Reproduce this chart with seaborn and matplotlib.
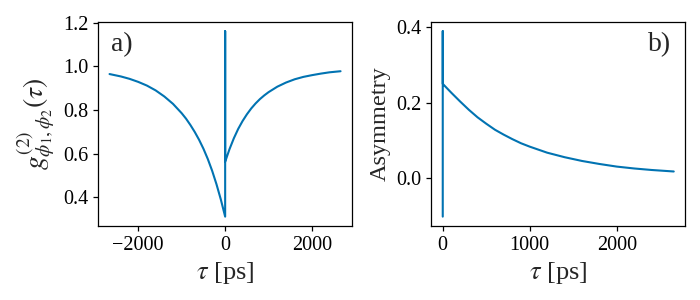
import numpy as np
import pandas as pd
import matplotlib
matplotlib.use("Agg")
import matplotlib.pyplot as plt
import seaborn as sns

# ---- data ----
# panel a) left branch (tau < 0), spike at 0, right branch (tau > 0)
tau_left = [-2660, -2400, -2200, -2000, -1800, -1600, -1400, -1200, -1000,
            -900, -800, -700, -600, -500, -400, -300, -200, -100, 0]
g2_left = [0.965, 0.954, 0.943, 0.929, 0.912, 0.890, 0.862, 0.828, 0.785,
           0.760, 0.731, 0.699, 0.663, 0.622, 0.575, 0.521, 0.459, 0.389, 0.310]
tau_spike = [0]
g2_spike = [1.162]
tau_right = [0, 100, 200, 300, 400, 500, 600, 700, 800, 900, 1000, 1200,
             1400, 1600, 1800, 2000, 2200, 2400, 2655]
g2_right = [0.562, 0.620, 0.670, 0.713, 0.749, 0.780, 0.807, 0.830, 0.850,
            0.867, 0.882, 0.907, 0.926, 0.941, 0.952, 0.960, 0.967, 0.973, 0.978]

# panel b) asymmetry
tau_asym = [0, 0, 0, 100, 200, 300, 400, 500, 600, 700, 800, 900, 1000,
            1200, 1400, 1600, 1800, 2000, 2200, 2400, 2655]
asym = [-0.103, 0.390, 0.250, 0.226, 0.203, 0.181, 0.161, 0.144, 0.128,
        0.115, 0.103, 0.092, 0.083, 0.067, 0.055, 0.045, 0.037, 0.030,
        0.025, 0.021, 0.017]

sns.set_theme(style="ticks")
plt.rcParams["font.family"] = ["Liberation Serif", "DejaVu Serif"]
plt.rcParams["mathtext.fontset"] = "stix"
plt.rcParams["axes.edgecolor"] = "black"
plt.rcParams["xtick.color"] = "black"
plt.rcParams["ytick.color"] = "black"
plt.rcParams["axes.linewidth"] = 0.9

color = sns.color_palette("colorblind")[0]

fig = plt.figure(figsize=(7, 3), dpi=100)
ax1 = fig.add_axes([0.140, 0.247, 0.363, 0.680])
ax2 = fig.add_axes([0.616, 0.247, 0.363, 0.680])

df_a = pd.DataFrame({"tau": tau_left + tau_spike + tau_right,
                     "g2": g2_left + g2_spike + g2_right})
sns.lineplot(data=df_a, x="tau", y="g2", sort=False, estimator=None,
             color=color, lw=1.5, ax=ax1)
df_b = pd.DataFrame({"tau": tau_asym, "asym": asym})
sns.lineplot(data=df_b, x="tau", y="asym", sort=False, estimator=None,
             color=color, lw=1.5, ax=ax2)

ax1.set_xticks([-2000, 0, 2000])
ax1.set_yticks([0.4, 0.6, 0.8, 1.0, 1.2])
ax2.set_xticks([0, 1000, 2000])
ax2.set_yticks([0.0, 0.2, 0.4])

ax1.set_xlabel(r"$\tau$ [ps]", fontsize=19)
ax1.set_ylabel(r"$g^{(2)}_{\phi_1,\phi_2}(\tau)$", fontsize=20, labelpad=4)
ax2.set_xlabel(r"$\tau$ [ps]", fontsize=19)
ax2.set_ylabel("Asymmetry", fontsize=17.5, labelpad=4)

for ax in (ax1, ax2):
    ax.tick_params(labelsize=14.5, direction="out", length=3.5, width=0.9)

ax1.text(0.05, 0.95, "a)", transform=ax1.transAxes, ha="left", va="top",
         fontsize=20)
ax2.text(0.945, 0.95, "b)", transform=ax2.transAxes, ha="right", va="top",
         fontsize=20)

fig.savefig("out.png", dpi=100)
